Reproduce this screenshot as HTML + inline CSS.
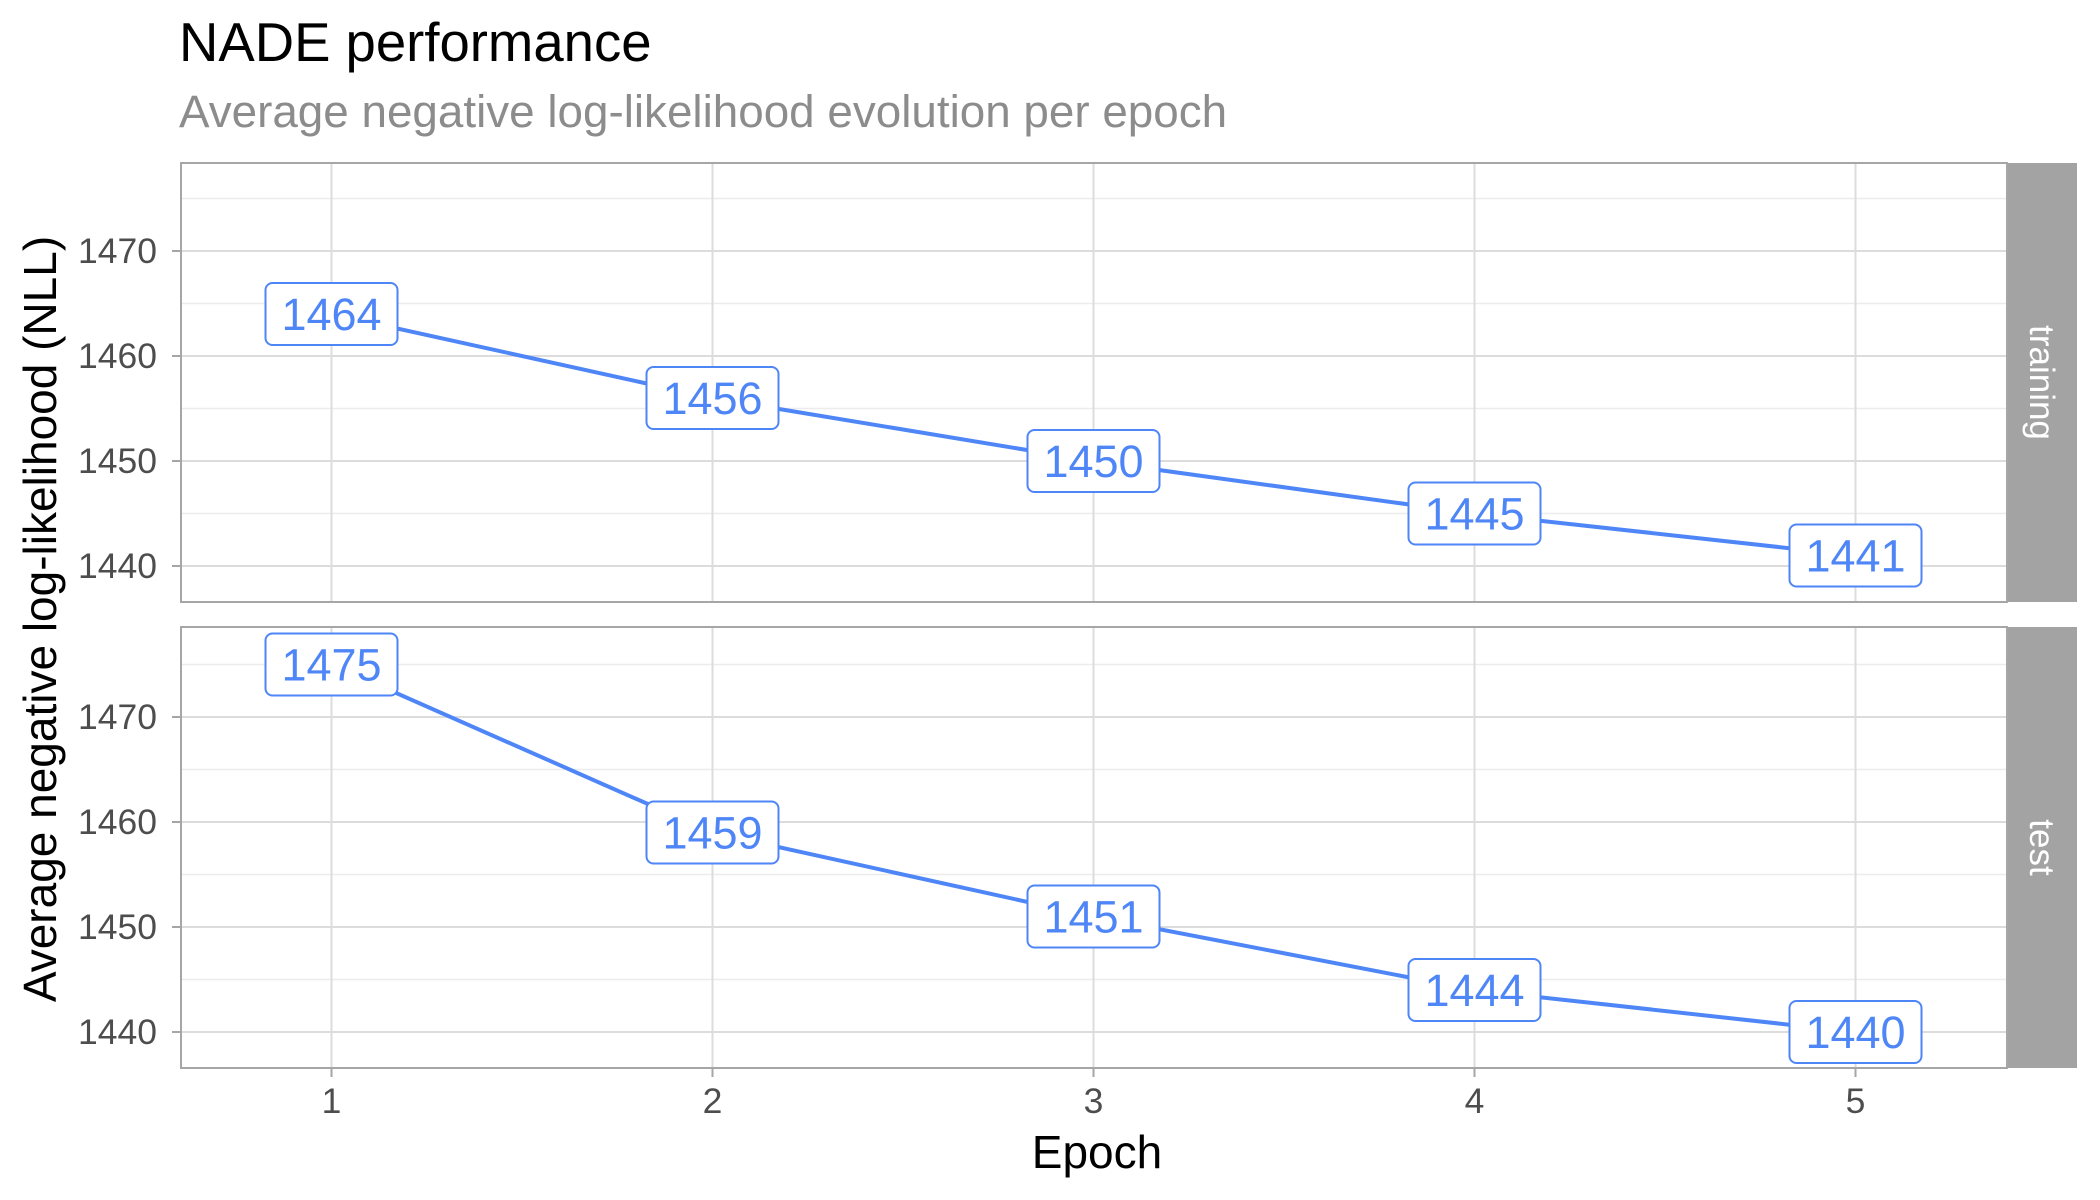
<!DOCTYPE html>
<html><head><meta charset="utf-8">
<style>
html,body{margin:0;padding:0;background:#fff;}
svg{display:block;font-family:"Liberation Sans",sans-serif;}
</style></head>
<body>
<svg id="chart" width="2100" height="1200" viewBox="0 0 2100 1200">
  <text x="179" y="61" font-size="54.5" fill="#000">NADE performance</text>
  <text x="179" y="127" font-size="45.8" fill="#8c8c8c">Average negative log-likelihood evolution per epoch</text>
  <text transform="translate(56,619) rotate(-90)" text-anchor="middle" font-size="46" fill="#000">Average negative log-likelihood (NLL)</text>
  <text x="1097" y="1168" text-anchor="middle" font-size="46" fill="#000">Epoch</text>
  <g id="panels"></g>
</svg>
<script>
const epochs = [1, 2, 3, 4, 5];
const trainingNLL = [1464, 1456, 1450, 1445, 1441];
const testNLL = [1475, 1459, 1451, 1444, 1440];
const yTicks = [1440, 1450, 1460, 1470];
const yMinor = [1445, 1455, 1465, 1475];
const xTicks = [1, 2, 3, 4, 5];
const facetNames = ["training", "test"];

const NS = "http://www.w3.org/2000/svg";
const root = document.getElementById("panels");
const PL = 181, PR = 2007, SR = 2077;
const panelsGeom = [{top:163, bottom:602, y1470:251}, {top:627, bottom:1068, y1470:717}];
const PXPER = 10.5;
function xScale(v){ return 331.5 + (v - 1) * 381; }
function mk(tag, attrs, parent){
  const e = document.createElementNS(NS, tag);
  for (const k in attrs) e.setAttribute(k, attrs[k]);
  (parent || root).appendChild(e);
  return e;
}
const series = [trainingNLL, testNLL];
panelsGeom.forEach((g, pi) => {
  const yScale = v => g.y1470 + (1470 - v) * PXPER;
  const grp = mk("g", {});
  
  
  mk("rect", {x:PL, y:g.top, width:PR-PL, height:g.bottom-g.top, fill:"#fff"}, grp);
  yMinor.forEach(v => {
    const y = yScale(v);
    if (y > g.top && y < g.bottom) {
      const l = mk("line", {x1:PL, x2:PR, y1:y, y2:y, stroke:"#ececec", "stroke-width":1.5}, grp);
      
      
    }
  });
  yTicks.forEach(v => {
    const y = yScale(v);
    const l = mk("line", {x1:PL, x2:PR, y1:y, y2:y, stroke:"#dcdcdc", "stroke-width":2}, grp);
    
    
    mk("line", {x1:PL-9, x2:PL, y1:y, y2:y, stroke:"#a6a6a6", "stroke-width":2}, grp);
    const t = mk("text", {x:PL-24, y:y+12, "text-anchor":"end", "font-size":35.5, fill:"#4d4d4d"}, grp);
    t.textContent = v;
    
    
  });
  xTicks.forEach(v => {
    const x = xScale(v);
    const l = mk("line", {x1:x, x2:x, y1:g.top, y2:g.bottom, stroke:"#dcdcdc", "stroke-width":2}, grp);
    
    
  });
  mk("rect", {x:PL, y:g.top, width:PR-PL, height:g.bottom-g.top, fill:"none", stroke:"#a6a6a6", "stroke-width":2}, grp);
  const strip = mk("rect", {x:PR+1, y:g.top, width:SR-PR-1, height:g.bottom-g.top, fill:"#a3a3a3"}, grp);
  
  
  const cy = (g.top + g.bottom) / 2, cx = (PR + SR) / 2;
  const st = mk("text", {transform:`translate(${cx-12},${cy}) rotate(90)`, "text-anchor":"middle", "font-size":35, fill:"#fff"}, grp);
  st.textContent = facetNames[pi];
  
  
  const vals = series[pi];
  const pts = epochs.map((e, i) => xScale(e) + "," + yScale(vals[i])).join(" ");
  const line = mk("polyline", {points:pts, fill:"none", stroke:"#4f86f7", "stroke-width":4}, grp);
  
  
  epochs.forEach((e, i) => {
    const x = xScale(e), y = yScale(vals[i]);
    const lg = mk("g", {}, grp);
    
    
    mk("rect", {x:x-66, y:y-31, width:132, height:62, rx:7, fill:"#fff", stroke:"#4f86f7", "stroke-width":2}, lg);
    const t = mk("text", {x:x, y:y+16, "text-anchor":"middle", "font-size":45, fill:"#4f86f7"}, lg);
    t.textContent = vals[i];
  });
  if (pi === 1) {
    xTicks.forEach(v => {
      const x = xScale(v);
      mk("line", {x1:x, x2:x, y1:g.bottom, y2:g.bottom+9, stroke:"#a6a6a6", "stroke-width":2}, grp);
      const t = mk("text", {x:x, y:g.bottom+45, "text-anchor":"middle", "font-size":35.5, fill:"#4d4d4d"}, grp);
      t.textContent = v;
      
      
    });
  }
});
</script>
</body></html>
